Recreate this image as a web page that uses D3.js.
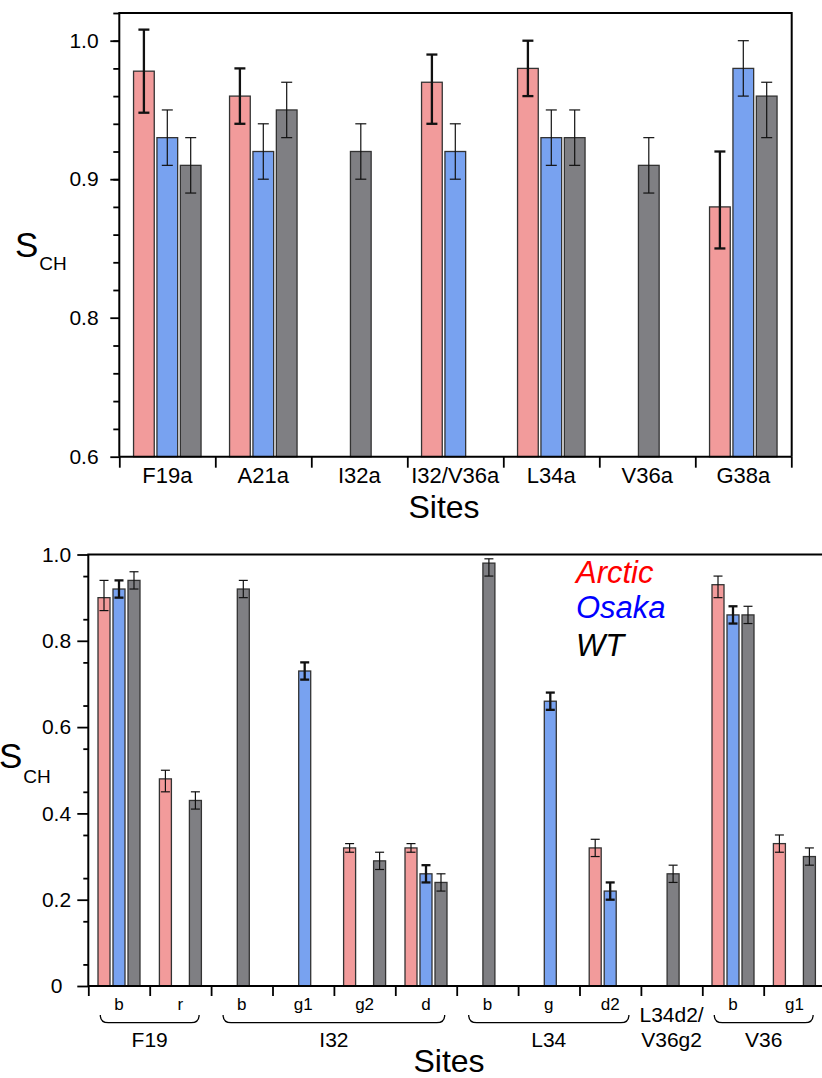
<!DOCTYPE html>
<html>
<head>
<meta charset="utf-8">
<script src="https://cdn.jsdelivr.net/npm/d3@7"></script>
<style>
  html, body { margin: 0; padding: 0; background: #fff; }
  svg { display: block; font-family: "Liberation Sans", Arial, sans-serif; }
</style>
</head>
<body>
<div id="chart"></div>
<script>
////////////////////////////////////////////////////////////////////
////////////////////////////  Data  ////////////////////////////////

const series = ["Arctic", "Osaka", "WT"];

// top panel
const sitesTop = ["F19a", "A21a", "I32a", "I32/V36a", "L34a", "V36a", "G38a"];
const arcticTop = [0.978, 0.96, null, 0.97, 0.98, null, 0.88];
const osakaTop = [0.93, 0.92, null, 0.92, 0.93, null, 0.98];
const wtTop = [0.91, 0.95, 0.92, null, 0.93, 0.91, 0.96];
// error: number = symmetric, [minus, plus] otherwise
const arcticTopErr = [0.03, 0.02, null, [0.03, 0.02], 0.02, null, [0.03, 0.04]];
const osakaTopErr = [0.02, 0.02, null, 0.02, 0.02, null, 0.02];
const wtTopErr = [0.02, 0.02, 0.02, null, 0.02, 0.02, [0.03, 0.01]];
const yTicksTop = [0.6, 0.8, 0.9, 1.0];

// bottom panel
const sitesBot = ["b", "r", "b", "g1", "g2", "d", "b", "g", "d2", "L34d2/V36g2", "b", "g1"];
const groupsBot = [
  { name: "F19", from: 0, to: 1 },
  { name: "I32", from: 2, to: 5 },
  { name: "L34", from: 6, to: 8 },
  { name: "V36", from: 10, to: 11 },
];
const arcticBot = [0.90, 0.48, null, null, 0.32, 0.32, null, null, 0.32, null, 0.93, 0.33];
const osakaBot = [0.92, null, null, 0.73, null, 0.26, null, 0.66, 0.22, null, 0.86, null];
const wtBot = [0.94, 0.43, 0.92, null, 0.29, 0.24, 0.98, null, null, 0.26, 0.86, 0.30];
const arcticBotErr = [[0.03, 0.04], [0.03, 0.02], null, null, 0.01, 0.01, null, null, 0.02, null, [0.03, 0.02], 0.02];
const osakaBotErr = [0.02, null, null, 0.02, null, 0.02, null, 0.02, 0.02, null, 0.02, null];
const wtBotErr = [0.02, 0.02, 0.02, null, 0.02, 0.02, [0.03, 0.01], null, null, 0.02, 0.02, 0.02];
const yTicksBot = [0, 0.2, 0.4, 0.6, 0.8, 1.0];

////////////////////////////////////////////////////////////////////
////////////////////////////  Init  ////////////////////////////////

const width = 822;
const height = 1078;
const fills = { Arctic: "#f29b9b", Osaka: "#78a2f0", WT: "#7f7f83" };
const legendColors = { Arctic: "#ff0000", Osaka: "#0000ff", WT: "#000000" };

const svg = d3.select("#chart").append("svg")
  .attr("width", width)
  .attr("height", height);

svg.append("rect").attr("width", width).attr("height", height).attr("fill", "#fff");

const asPair = (e) => (Array.isArray(e) ? e : [e, e]);

// flatten arrays into bar records; lone bars sit in the middle of the band
const buildBars = (sites, values, errs) => {
  const out = [];
  sites.forEach((s, i) => {
    const present = series.filter((k, j) => values[j][i] != null);
    series.forEach((k, j) => {
      const v = values[j][i];
      if (v == null) return;
      out.push({ i, key: k, value: v, err: asPair(errs[j][i]), lone: present.length === 1 });
    });
  });
  return out;
};

////////////////////////////////////////////////////////////////////
////////////////////////////  Panel  ///////////////////////////////

const drawPanel = (opt) => {
  const g = svg.append("g");
  const n = opt.sites.length;

  const x = d3.scaleBand().domain(d3.range(n)).range([opt.left, opt.left + n * opt.step]);
  const inner = d3.scaleBand().domain(series).range([0, x.bandwidth()])
    .paddingInner(opt.padIn).paddingOuter(opt.padOut);
  const xEdge = d3.scaleLinear().domain([0, n]).range(x.range());

  const barX = (d) => (d.lone
    ? x(d.i) + x.bandwidth() / 2 - inner.bandwidth() / 2 + 1.5
    : x(d.i) + inner(d.key));

  const bars = buildBars(opt.sites, opt.values, opt.errs);

  g.selectAll(".bar")
    .data(bars)
    .enter()
    .append("rect")
    .attr("x", barX)
    .attr("y", (d) => opt.y(d.value))
    .attr("width", inner.bandwidth())
    .attr("height", (d) => opt.y.range()[0] - opt.y(d.value))
    .attr("fill", (d) => fills[d.key])
    .attr("stroke", "#333")
    .attr("stroke-width", 1.3);

  // error bars
  const eb = g.selectAll(".err")
    .data(bars)
    .enter()
    .append("g")
    .attr("stroke", "#111")
    .attr("stroke-width", (d) => (d.key === opt.thick ? 2.3 : 1.2))
    .attr("transform", (d) => `translate(${barX(d) + inner.bandwidth() / 2},0)`);
  eb.append("line")
    .attr("y1", (d) => opt.y(d.value - d.err[0]))
    .attr("y2", (d) => opt.y(d.value + d.err[1]));
  [0, 1].forEach((s) => {
    eb.append("line")
      .attr("x1", -opt.cap / 2)
      .attr("x2", opt.cap / 2)
      .attr("y1", (d) => opt.y(s ? d.value + d.err[1] : d.value - d.err[0]))
      .attr("y2", (d) => opt.y(s ? d.value + d.err[1] : d.value - d.err[0]));
  });

  const y0 = opt.y.range()[0];
  const yTop = opt.y.range()[opt.y.range().length - 1];

  // frame
  g.append("path")
    .attr("d", `M${opt.left},${y0}V${yTop}H${opt.right}` + (opt.closed ? `V${y0}` : "") + `M${opt.left},${y0}H${opt.right}`)
    .attr("fill", "none")
    .attr("stroke", "#000")
    .attr("stroke-width", 2);

  // y axis, minor then major
  const yMinor = g.append("g")
    .attr("transform", `translate(${opt.left},0)`)
    .call(d3.axisLeft(opt.y).tickValues(opt.minor).tickSize(opt.minorLen).tickFormat(""));
  const yMajor = g.append("g")
    .attr("transform", `translate(${opt.left},0)`)
    .call(d3.axisLeft(opt.y).tickValues(opt.major).tickSize(opt.majorLen)
      .tickFormat((d) => (d === 0 ? "0" : d.toFixed(1))));
  [yMinor, yMajor].forEach((a) => {
    a.select(".domain").remove();
    a.selectAll("line").attr("stroke", "#000").attr("stroke-width", 1.8);
  });
  yMajor.selectAll("text")
    .attr("x", opt.labelX - opt.left)
    .attr("text-anchor", "middle")
    .attr("fill", "#000")
    .style("font-size", "21px")
    .style("font-family", "'Liberation Sans', Arial, sans-serif");

  // x axis ticks between sites
  const xa = g.append("g")
    .attr("transform", `translate(0,${y0})`)
    .call(d3.axisBottom(xEdge).tickValues(d3.range(n + 1)).tickSize(opt.xTickLen).tickFormat(""));
  xa.select(".domain").remove();
  xa.selectAll("line").attr("stroke", "#000").attr("stroke-width", 1.8);

  return { g, x };
};

////////////////////////////////////////////////////////////////////
////////////////////////////  Top panel  ///////////////////////////

const yScaleTop = d3.scaleLinear().domain([0.6, 0.8, 1.02]).range([456.7, 317.7, 13]);

const topPanel = drawPanel({
  sites: sitesTop,
  values: [arcticTop, osakaTop, wtTop],
  errs: [arcticTopErr, osakaTopErr, wtTopErr],
  y: yScaleTop,
  left: 119.3,
  right: 791.7,
  step: 96,
  padIn: 0.115,
  padOut: 0.609,
  cap: 11,
  thick: "Arctic",
  closed: true,
  major: yTicksTop,
  minor: [0.64, 0.68, 0.72, 0.76].concat(d3.range(0.82, 1.03, 0.02).map((d) => +d.toFixed(2))),
  majorLen: 9,
  minorLen: 6,
  labelX: 84,
  xTickLen: 11,
});

topPanel.g.selectAll(".site")
  .data(sitesTop)
  .enter()
  .append("text")
  .attr("x", (d, i) => topPanel.x(i) + topPanel.x.bandwidth() / 2)
  .attr("y", 483)
  .attr("text-anchor", "middle")
  .style("font-size", "22px")
  .text((d) => d);

svg.append("text").attr("x", 444).attr("y", 518).attr("text-anchor", "middle")
  .style("font-size", "32px").text("Sites");

const sTop = svg.append("text").attr("x", 15).attr("y", 256.7).style("font-size", "35px");
sTop.append("tspan").text("S");
sTop.append("tspan").attr("dx", 1).attr("dy", 13.3).style("font-size", "19px").text("CH");

////////////////////////////////////////////////////////////////////
////////////////////////////  Bottom panel  ////////////////////////

const yScaleBot = d3.scaleLinear().domain([0, 1]).range([986, 554.5]);

const botPanel = drawPanel({
  sites: sitesBot,
  values: [arcticBot, osakaBot, wtBot],
  errs: [arcticBotErr, osakaBotErr, wtBotErr],
  y: yScaleBot,
  left: 88.3,
  right: 822,
  step: 61.4,
  padIn: 0.2,
  padOut: 0.647,
  cap: 9,
  thick: "Osaka",
  closed: false,
  major: yTicksBot,
  minor: d3.range(0.05, 1, 0.1).map((d) => +d.toFixed(2)),
  majorLen: 11,
  minorLen: 5,
  labelX: 56.5,
  xTickLen: 10,
});

const xb = botPanel.x;
const bw = xb.bandwidth();

// site labels (the shared one goes on two lines)
sitesBot.forEach((s, i) => {
  const cx = xb(i) + bw / 2;
  if (s.includes("/")) {
    const parts = s.split("/");
    const t = botPanel.g.append("text").attr("text-anchor", "middle").style("font-size", "21px");
    t.append("tspan").attr("x", cx).attr("y", 1021.5).text(parts[0] + "/");
    t.append("tspan").attr("x", cx).attr("y", 1046.5).text(parts[1]);
  } else {
    botPanel.g.append("text")
      .attr("x", cx)
      .attr("y", 1010)
      .attr("text-anchor", "middle")
      .style("font-size", "17px")
      .text(s);
  }
});

// braces under each residue
const braceTop = 1015;
const braceBot = 1022.7;
groupsBot.forEach((gr) => {
  const x0 = xb(gr.from) + 12;
  const x1 = xb(gr.to) + bw - 12;
  const p = d3.path();
  p.moveTo(x0, braceTop);
  p.quadraticCurveTo(x0, braceBot, x0 + 8, braceBot);
  p.lineTo(x1 - 8, braceBot);
  p.quadraticCurveTo(x1, braceBot, x1, braceTop);
  botPanel.g.append("path")
    .attr("d", p.toString())
    .attr("fill", "none")
    .attr("stroke", "#000")
    .attr("stroke-width", 1.3);

  botPanel.g.append("text")
    .attr("x", (xb(gr.from) + xb(gr.to) + bw) / 2)
    .attr("y", 1046.5)
    .attr("text-anchor", "middle")
    .style("font-size", "21px")
    .text(gr.name);
});

svg.append("text").attr("x", 449).attr("y", 1071.5).attr("text-anchor", "middle")
  .style("font-size", "32px").text("Sites");

const sBot = svg.append("text").attr("x", -1).attr("y", 768.3).style("font-size", "35px");
sBot.append("tspan").text("S");
sBot.append("tspan").attr("dx", 1).attr("dy", 15).style("font-size", "19px").text("CH");

// legend
const legendY = [583, 618, 656];
svg.selectAll(".legend")
  .data(series)
  .enter()
  .append("text")
  .attr("x", 576)
  .attr("y", (d, i) => legendY[i])
  .attr("fill", (d) => legendColors[d])
  .style("font-size", "31px")
  .style("font-style", "italic")
  .text((d) => d);
</script>
</body>
</html>
